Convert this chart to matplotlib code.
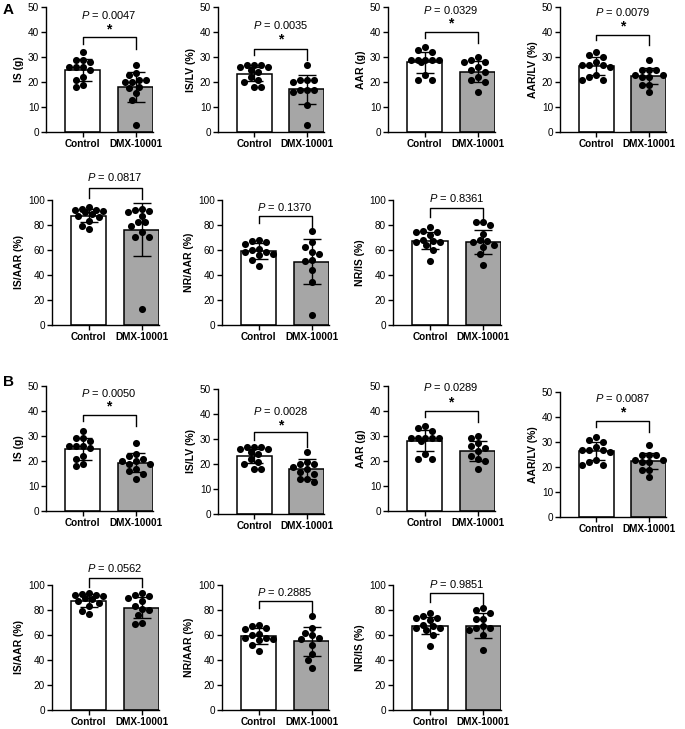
import numpy as np
import matplotlib.pyplot as plt

plt.rcParams['font.family'] = ['Liberation Sans', 'DejaVu Sans']
plt.rcParams['mathtext.fontset'] = 'custom'
plt.rcParams['mathtext.it'] = 'Liberation Sans:italic'
plt.rcParams['mathtext.rm'] = 'Liberation Sans'

groups = ["Control", "DMX-10001"]

# control animals (same in A and B)
ctrl_is_g = [32, 29, 29, 28, 26, 26, 26, 25, 22, 21, 19, 18]
ctrl_is_lv = [27, 27, 27, 26, 26, 25, 24, 22, 21, 20, 18, 18]
ctrl_aar_g = [34, 33, 32, 29, 29, 29, 29, 29, 28, 23, 21, 21]
ctrl_aar_lv = [32, 31, 30, 28, 27, 27, 27, 26, 23, 22, 21, 21]
ctrl_is_aar = [94, 93, 92, 92, 91, 90, 89, 87, 86, 83, 79, 77]
ctrl_nr_aar = [68, 67, 66, 65, 61, 60, 58, 58, 57, 56, 52, 47]
ctrl_nr_is = [78, 75, 74, 74, 72, 68, 67, 66, 66, 64, 60, 51]

# DMX-10001, panel A
dmx_is_g_a = [27, 23.5, 23, 21, 21, 20, 20, 18, 17.5, 15.5, 13, 3]
dmx_is_lv_a = [27, 21, 21, 21, 20, 17, 17, 17, 16, 11, 3]
dmx_aar_g_a = [30, 29, 28, 28, 26, 25, 24, 22, 21, 20, 16]
dmx_aar_lv_a = [29, 25, 25, 25, 23, 23, 22, 22, 19, 19, 16]
dmx_is_aar_a = [93, 92, 91, 90, 87, 82, 82, 79, 74, 70, 70, 13]
dmx_nr_aar_a = [75, 66, 62, 58, 57, 52, 51, 44, 34, 8]
dmx_nr_is_a = [82, 82, 80, 73, 68, 67, 66, 64, 62, 57, 48]

# DMX-10001, panel B
dmx_is_g_b = [27, 23, 22, 21, 20, 20, 19, 19, 17, 16, 15, 13]
dmx_is_lv_b = [25, 21, 20, 20, 19, 18, 17, 16, 14, 14, 13]
dmx_aar_g_b = [30, 29, 27, 26, 25, 24, 22, 21, 20, 17]
dmx_aar_lv_b = [29, 25, 25, 25, 23, 23, 22, 22, 19, 19, 16]
dmx_is_aar_b = [94, 92, 91, 90, 87, 83, 81, 80, 76, 70, 69]
dmx_nr_aar_b = [75, 66, 62, 60, 58, 57, 52, 45, 40, 34]
dmx_nr_is_b = [82, 80, 78, 73, 73, 67, 66, 66, 64, 60, 48]

# bar means and SD as shown
means_a = [(24.8, 18.1), (23.2, 17.1), (28.0, 24.2), (26.5, 22.5), (87.5, 76.2), (59.2, 50.6), (67.5, 66.6)]
sds_a = [(4.3, 6.0), (2.8, 5.7), (4.2, 4.1), (3.5, 3.2), (5.0, 21.3), (6.3, 18.1), (7.0, 9.6)]
means_b = [(24.8, 19.4), (23.2, 18.0), (28.0, 24.0), (26.5, 22.4), (87.5, 82.0), (59.2, 55.0), (67.5, 67.3)]
sds_b = [(4.3, 3.8), (2.8, 4.0), (4.2, 4.0), (3.5, 3.3), (5.0, 8.5), (6.3, 11.7), (7.0, 10.0)]

ylabels = ["IS (g)", "IS/LV (%)", "AAR (g)", "AAR/LV (%)", "IS/AAR (%)", "NR/AAR (%)", "NR/IS (%)"]
pvals_a = ["0.0047", "0.0035", "0.0329", "0.0079", "0.0817", "0.1370", "0.8361"]
pvals_b = ["0.0050", "0.0028", "0.0289", "0.0087", "0.0562", "0.2885", "0.9851"]

W, H = 685, 729
fig = plt.figure(figsize=(W / 100, H / 100), dpi=100)

# axes boxes in pixels: left, right, top, bottom
boxes_a = [(46, 153, 7, 132), (218, 324, 7, 132), (388, 495, 7, 132), (560, 666, 7, 132),
           (52, 159, 200, 325), (222, 329, 200, 325), (393, 501, 200, 325)]
boxes_b = [(46, 153, 386, 511), (218, 324, 389, 514), (388, 495, 386, 511), (560, 666, 392, 517),
           (52, 159, 585, 710), (222, 329, 585, 710), (393, 501, 585, 710)]

# bracket: P text y, asterisk y, bracket top, left leg end, right leg end
brk_a = [(46.9, 41.2, 37.9, 35.3, 33.2), (42.9, 37.2, 33.2, 30.9, 28.9), (48.9, 43.3, 40, 37.6, 35.6),
         (47.9, 42.3, 38.9, 36.9, 34.9), (118, None, 109.4, 101.3, 101), (94.7, None, 87.5, 81.3, 77.3),
         (101.3, None, 93.9, 86.7, 83.2)]
brk_b = [(47.2, 41.9, 38.5, 36, 33.9), (41.2, 35.6, 32.8, 29.6, 26.8), (49.5, 43.5, 40, 37.6, 35.6),
         (47.6, 41.9, 38.3, 36, 33.9), (113.9, None, 105.9, 98.7, 98.7), (94.7, None, 87.2, 81.3, 77.3),
         (100.5, None, 93.3, 86.7, 82.7)]

ctrl_all = [ctrl_is_g, ctrl_is_lv, ctrl_aar_g, ctrl_aar_lv, ctrl_is_aar, ctrl_nr_aar, ctrl_nr_is]
dmx_a = [dmx_is_g_a, dmx_is_lv_a, dmx_aar_g_a, dmx_aar_lv_a, dmx_is_aar_a, dmx_nr_aar_a, dmx_nr_is_a]
dmx_b = [dmx_is_g_b, dmx_is_lv_b, dmx_aar_g_b, dmx_aar_lv_b, dmx_is_aar_b, dmx_nr_aar_b, dmx_nr_is_b]


def swarm(ax, vals, diam=7.0, maxw=14.5):
    # beeswarm offsets in pixels (kept inside the bar), back to data units
    t = ax.transData
    xs = t.transform((1, 0))[0] - t.transform((0, 0))[0]
    placed = []
    order = np.argsort(vals)[::-1]
    offs = np.zeros(len(vals))
    cands = [0, -1, 1, -2, 2, -3, 3, -4, 4]
    for i in order:
        y = t.transform((0, vals[i]))[1]
        best, bestd = 0.0, -1
        for k in cands:
            x = k * diam * 0.5
            if abs(x) > maxw:
                continue
            d = min([np.hypot(x - px, y - py) for px, py in placed] + [99])
            if d >= diam * 0.95:
                best = x
                break
            if d > bestd:
                best, bestd = x, d
        placed.append((best, y))
        offs[i] = best / xs
    return offs


def panel(box, ylabel, ctrl, dmx, mean, sd, pval, brk):
    l, r, t, b = box
    ax = fig.add_axes([l / W, 1 - b / H, (r - l) / W, (b - t) / H])
    ymax = 50 if "IS/AAR" not in ylabel and "NR" not in ylabel else 100
    ax.set_xlim(-0.69, 1.33)
    ax.set_ylim(0, ymax)
    ax.bar([0, 1], mean, width=0.66, color=["white", "#a6a6a6"], edgecolor="black",
           linewidth=1.1, zorder=1)
    for xi, vals in enumerate([ctrl, dmx]):
        off = swarm(ax, vals)
        ax.scatter(xi + off, vals, s=26, color="black", zorder=3, clip_on=False, linewidths=0)
    ax.errorbar([0, 1], mean, yerr=sd, fmt="none", ecolor="black", elinewidth=1.0,
                capsize=6.5, capthick=1.0, zorder=4)
    for s in ["top", "right"]:
        ax.spines[s].set_visible(False)
    for s in ["left", "bottom"]:
        ax.spines[s].set_linewidth(1.0)
    ax.set_yticks(np.linspace(0, ymax, 6))
    ax.set_xticks([0, 1])
    ax.set_xticklabels(groups, fontweight="bold", fontsize=7.2)
    ax.tick_params(axis="both", length=3.5, width=1.0, labelsize=7.2, pad=1.5)
    ax.set_ylabel(ylabel, fontweight="bold", fontsize=7.5, labelpad=3)
    ptxt, ast, top, ll, rl = brk
    ax.plot([0, 0, 1, 1], [ll, top, top, rl], color="black", lw=1.0, clip_on=False)
    ax.text(0.5, ptxt, r"$\mathit{P}$ = " + pval, ha="center", va="center", fontsize=8)
    if ast is not None:
        ax.text(0.5, ast, "*", ha="center", va="center", fontsize=10, fontweight="bold")
    return ax


for i in range(7):
    panel(boxes_a[i], ylabels[i], ctrl_all[i], dmx_a[i], means_a[i], sds_a[i], pvals_a[i], brk_a[i])
    panel(boxes_b[i], ylabels[i], ctrl_all[i], dmx_b[i], means_b[i], sds_b[i], pvals_b[i], brk_b[i])

fig.text(3 / W, 1 - 10 / H, "A", fontsize=11, fontweight="bold", va="center")
fig.text(3 / W, 1 - 382 / H, "B", fontsize=11, fontweight="bold", va="center")

fig.savefig("out.png", dpi=100)
